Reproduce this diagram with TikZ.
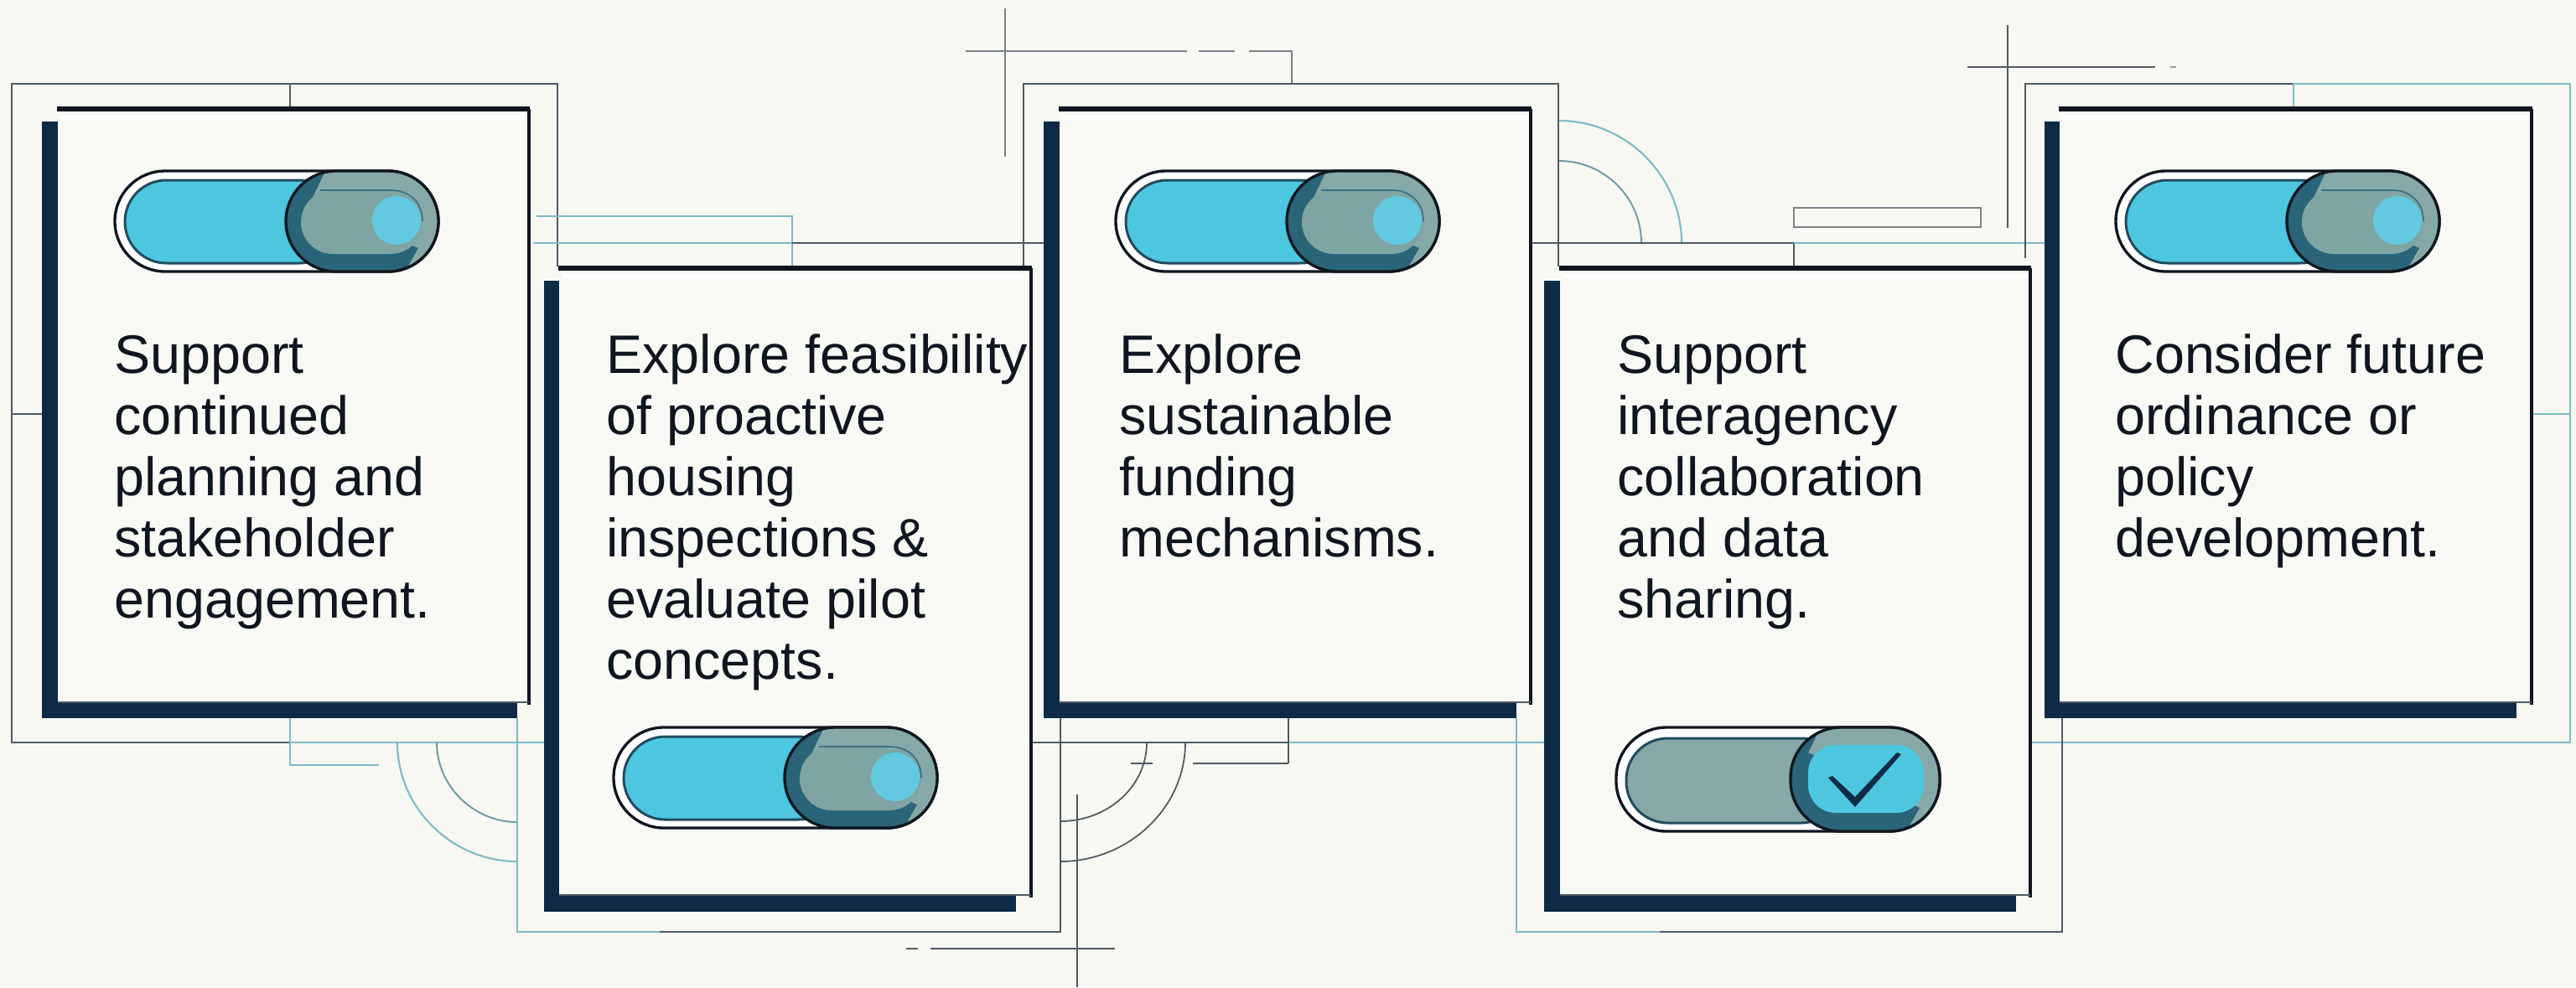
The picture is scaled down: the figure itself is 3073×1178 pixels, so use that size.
\documentclass[tikz,border=0pt]{standalone}
\usepackage{fontspec}
\setmainfont{Liberation Sans}
\definecolor{bgc}{HTML}{F8F8F3}
\definecolor{cardc}{HTML}{F8F8F4}
\definecolor{navy}{HTML}{0E2A47}
\definecolor{inkc}{HTML}{10161F}
\definecolor{greyl}{HTML}{4E5A62}
\definecolor{teall}{HTML}{7DBAC4}
\definecolor{mixl}{HTML}{6F9AA2}
\definecolor{cyanf}{HTML}{4DC6E0}
\definecolor{cyanl}{HTML}{62C9E0}
\definecolor{sage}{HTML}{86A9A8}
\definecolor{sagein}{HTML}{7FA5A3}
\definecolor{petrol}{HTML}{2A6478}
\tikzset{
  x=0.02cm,y=-0.02cm,
  thinline/.style={draw=greyl,line width=1.6pt,line cap=butt},
  hairline/.style={draw=greyl,line width=1pt,line cap=butt},
  tealline/.style={draw=teall,line width=1.2pt},
  mixline/.style={draw=mixl,line width=1.1pt},
  cardtext/.style={anchor=north west,align=left,inner sep=0pt,text=inkc,font=\fontsize{36.8}{41.6}\selectfont},
}
\newcommand{\cardbox}[8]{%
  \fill[navy] (#5,#6) rectangle (#7,#8);
  \filldraw[fill=cardc,draw=none] (#1,#2) rectangle (#3,#4);
  \draw[white,line width=3pt] (#1+4,#2+10) -- (#3-4,#2+10);
  \draw[inkc,line width=3.2pt,line cap=butt] (#1-1,#2) -- (#3+1,#2);
  \draw[inkc,line width=2pt] (#3,#2) -- (#3,#4+3) ;
  \draw[greyl,line width=.8pt] (#1,#4) -- (#3,#4);
}
\newcommand{\swon}[2]{%
  \begin{scope}[shift={(#1,#2)}]
    \draw[inkc,line width=1.9pt,fill=white,rounded corners=1.2cm] (0,0) rectangle (386,120);
    \draw[petrol!70!inkc,line width=1.7pt,fill=cyanf,rounded corners=0.99cm] (12,11) rectangle (270,110);
    \begin{scope}
      \clip[rounded corners=1.2cm] (204,0) rectangle (386,120);
      \fill[sage] (190,-2) rectangle (390,122);
      \fill[petrol] (190,-2) -- (252,-2) -- (232,40) -- (362,92) -- (345,122) -- (190,122) -- cycle;
    \end{scope}
    \draw[inkc,line width=1.9pt,rounded corners=1.2cm] (204,0) rectangle (386,120);
    \fill[sagein,rounded corners=0.76cm] (222,23) rectangle (367,99);
    \draw[petrol!80!sage,line width=1pt] (245,23) -- (330,23) .. controls (352,23) and (367,38) .. (367,60);
    \fill[cyanl] (336,59) circle (29);
  \end{scope}
}
\newcommand{\swcheck}[2]{%
  \begin{scope}[shift={(#1,#2)}]
    \draw[inkc,line width=1.9pt,fill=white,rounded corners=1.2cm] (0,0) rectangle (386,124);
    \draw[petrol!70!inkc,line width=1.7pt,fill=sage,rounded corners=0.99cm] (12,13) rectangle (270,114);
    \begin{scope}
      \clip[rounded corners=1.2cm] (208,0) rectangle (386,124);
      \fill[sage] (190,-2) rectangle (390,126);
      \fill[petrol] (190,-2) -- (245,-2) -- (229,30) -- (362,96) -- (345,126) -- (190,126) -- cycle;
    \end{scope}
    \draw[inkc,line width=1.9pt,rounded corners=1.2cm] (208,0) rectangle (386,124);
    \fill[cyanf,rounded corners=0.66cm] (229,21) rectangle (367,102);
    \fill[navy] (253,60) -- (258,58) -- (285,83) -- (335,30) -- (340,32) -- (285,95) -- cycle;
  \end{scope}
}
\newcommand{\fl}{\vphantom{Eflb}}
\begin{document}
\begin{tikzpicture}
\useasboundingbox (0,0) rectangle (3073,1178);
\fill[bgc] (0,0) rectangle (3073,1178);
% frames and grid lines
\draw[thinline] (346,886) -- (14,886) -- (14,100) -- (665,100) -- (665,318);
\draw[hairline] (346,100) -- (346,130);
\draw[hairline] (14,494) -- (50,494);
\draw[tealline] (346,857) -- (346,913) -- (452,913);
\draw[tealline] (346,886) -- (649,886);
\draw[tealline] (640,258) -- (945,258) -- (945,318);
\draw[tealline] (636,290) -- (945,290);
\draw[thinline] (945,290) -- (1245,290);
\draw[tealline] (474,886) .. controls (474,965) and (540,1028) .. (617,1028);
\draw[mixline] (521,886) .. controls (521,938) and (565,981) .. (617,981);
\draw[tealline] (617,857) -- (617,1112) -- (787,1112);
\draw[thinline] (787,1112) -- (1265,1112) -- (1265,857);
\draw[thinline] (1230,886) -- (1537,886);
\draw[tealline] (1537,886) -- (1842,886);
\draw[hairline] (1368,886) .. controls (1368,938) and (1322,980) .. (1265,980);
\draw[hairline] (1414,886) .. controls (1414,965) and (1345,1028) .. (1265,1028);
\draw[hairline] (1537,857) -- (1537,911);
\draw[hairline] (1537,911) -- (1423,911);
\draw[hairline] (1375,911) -- (1349,911);
\draw[hairline] (1285,948) -- (1285,1178);
\draw[thinline] (1110,1132) -- (1330,1132);
\draw[thinline] (1081,1132) -- (1095,1132);
% crosshair top centre
\draw[hairline,draw=greyl!75] (1199,10) -- (1199,187);
\draw[hairline,draw=greyl!75] (1152,61) -- (1416,61);
\draw[hairline,draw=greyl!75] (1430,61) -- (1473,61);
\draw[hairline,draw=greyl!75] (1490,61) -- (1541,61) -- (1541,100);
\draw[thinline] (1221,318) -- (1221,100) -- (1859,100) -- (1859,318);
\draw[tealline] (1860,144) .. controls (1940,144) and (2006,210) .. (2006,290);
\draw[mixline] (1860,192) .. controls (1914,192) and (1958,236) .. (1958,290);
\draw[thinline] (1826,290) -- (2140,290) -- (2140,320);
\draw[tealline] (2140,290) -- (2439,290);
\draw[hairline,draw=greyl!75,line width=1.3pt] (2140,248) rectangle (2363,271);
% crosshair top right
\draw[hairline] (2395,30) -- (2395,272);
\draw[thinline] (2347,80) -- (2571,80);
\draw[thinline,draw=greyl!60] (2589,80) -- (2596,80);
\draw[thinline] (2416,308) -- (2416,100) -- (2736,100);
\draw[tealline] (2736,130) -- (2736,100) -- (3066,100) -- (3066,886) -- (2422,886);
\draw[tealline] (3020,494) -- (3066,494);
\draw[tealline] (1809,857) -- (1809,1112) -- (1980,1112);
\draw[thinline] (1980,1112) -- (2460,1112) -- (2460,857);
% cards
\cardbox{69}{130}{631}{838}{50}{145}{617}{857}
\cardbox{667}{320}{1230}{1068}{649}{335}{1212}{1088}
\cardbox{1264}{130}{1826}{838}{1245}{145}{1809}{857}
\cardbox{1861}{320}{2422}{1068}{1842}{335}{2405}{1088}
\cardbox{2457}{130}{3020}{838}{2439}{145}{3002}{857}
% switches
\swon{137}{204}
\swon{732}{868}
\swon{1331}{204}
\swcheck{1928}{868}
\swon{2524}{204}
% texts
\node[cardtext] (t1) at (136,398) {\fl Support\\continued\\planning and\\stakeholder\\engagement.};
\node[cardtext] (t2) at (723,398) {\fl Explore feasibility\\of proactive\\housing\\inspections \&\\evaluate pilot\\concepts.};
\node[cardtext] (t3) at (1335,398) {\fl Explore\\sustainable\\funding\\mechanisms.};
\node[cardtext] (t4) at (1929,398) {\fl Support\\interagency\\collaboration\\and data\\sharing.};
\node[cardtext] (t5) at (2523,398) {\fl Consider future\\ordinance or\\policy\\development.};
\end{tikzpicture}
\end{document}
